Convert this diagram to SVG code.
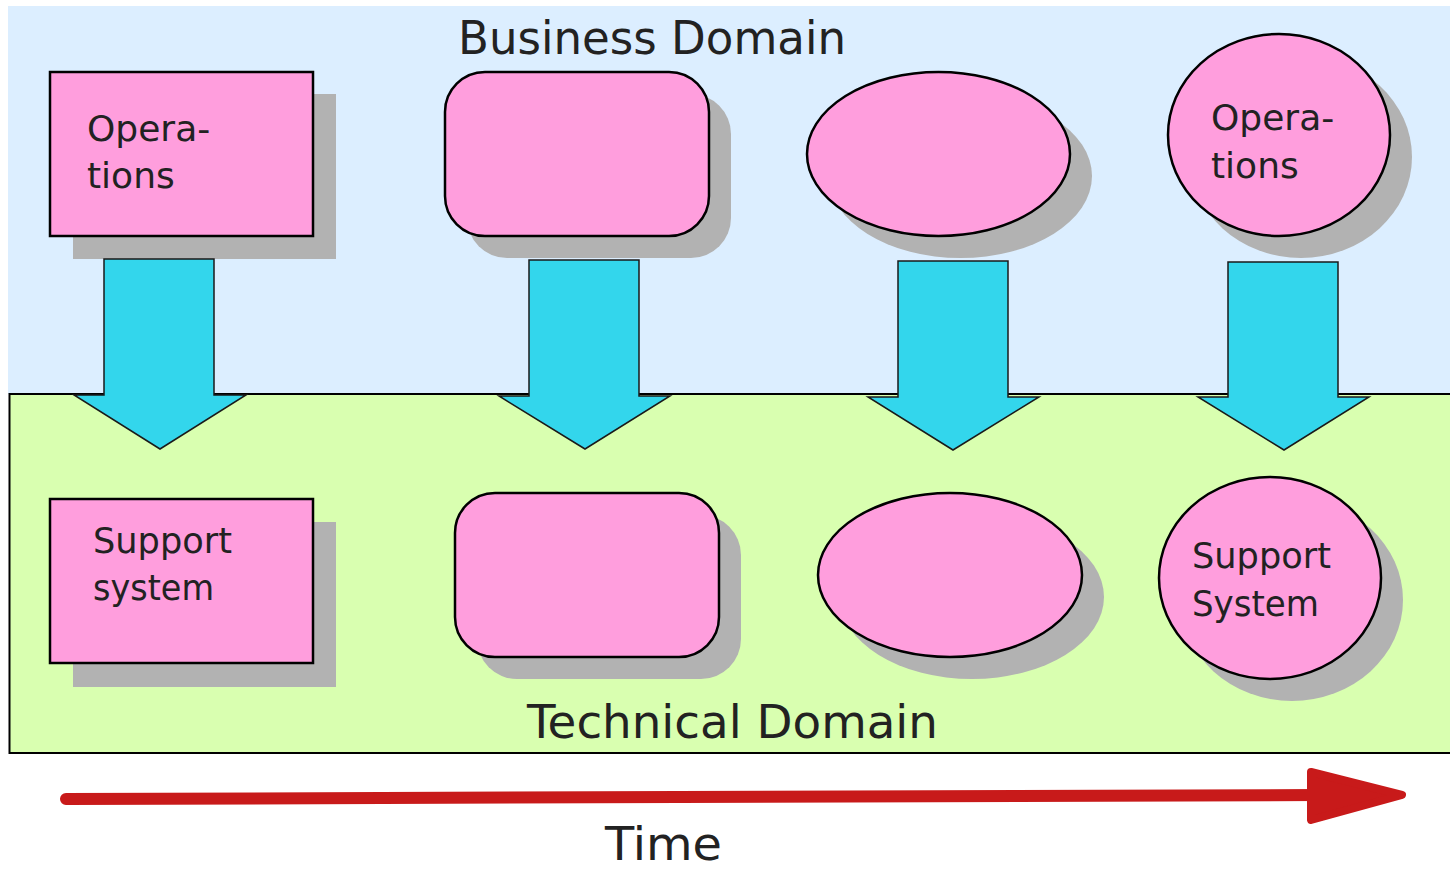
<svg xmlns="http://www.w3.org/2000/svg" width="1450" height="871" viewBox="0 0 1450 871">
<style>
.shape{fill:#FF9EDD;stroke:#000;stroke-width:2.5}
.shadow{fill:#B2B2B2}
.down{fill:#33D6EC;stroke:#1a1a1a;stroke-width:1.5;stroke-linejoin:miter}
.lbl{font-family:"DejaVu Sans","Liberation Sans",sans-serif;font-size:36px;fill:#222}
.title{font-family:"DejaVu Sans","Liberation Sans",sans-serif;font-size:46px;fill:#222}
</style>
<rect width="1450" height="871" fill="#fff"/>
<g id="business-domain">
<rect x="8" y="6" width="1442" height="388" fill="#DCEEFF"/>
<text class="title" x="458" y="54" textLength="388" lengthAdjust="spacingAndGlyphs">Business Domain</text>
</g>
<g id="technical-domain">
<rect x="9.5" y="394" width="1442" height="359" fill="#D9FFB0" stroke="#000" stroke-width="2"/>
<text class="title" x="527" y="738" textLength="411" lengthAdjust="spacingAndGlyphs">Technical Domain</text>
</g>
<g id="ops-rect">
<rect class="shadow" x="73" y="94" width="263" height="165"/>
<rect class="shape" x="50" y="72" width="263" height="164"/>
<text class="lbl" x="87" y="141">Opera-</text>
<text class="lbl" x="87" y="188">tions</text>
</g>
<g id="ops-rounded">
<rect class="shadow" x="467" y="94" width="264" height="164" rx="40"/>
<rect class="shape" x="445" y="72" width="264" height="164" rx="40"/>
</g>
<g id="ops-ellipse">
<ellipse class="shadow" cx="960.5" cy="176" rx="131.5" ry="82"/>
<ellipse class="shape" cx="938.5" cy="154" rx="131.5" ry="82"/>
</g>
<g id="ops-circle">
<ellipse class="shadow" cx="1301" cy="157" rx="111" ry="101"/>
<ellipse class="shape" cx="1279" cy="135" rx="111" ry="101"/>
<text class="lbl" x="1211" y="130">Opera-</text>
<text class="lbl" x="1211" y="178">tions</text>
</g>
<g id="sup-rect">
<rect class="shadow" x="73" y="522" width="263" height="165"/>
<rect class="shape" x="50" y="499" width="263" height="164"/>
<text class="lbl" x="93" y="553" textLength="139" lengthAdjust="spacingAndGlyphs">Support</text>
<text class="lbl" x="93" y="600" textLength="121" lengthAdjust="spacingAndGlyphs">system</text>
</g>
<g id="sup-rounded">
<rect class="shadow" x="477" y="515" width="264" height="164" rx="40"/>
<rect class="shape" x="455" y="493" width="264" height="164" rx="40"/>
</g>
<g id="sup-ellipse">
<ellipse class="shadow" cx="972" cy="597" rx="132" ry="82"/>
<ellipse class="shape" cx="950" cy="575" rx="132" ry="82"/>
</g>
<g id="sup-circle">
<ellipse class="shadow" cx="1292" cy="600" rx="111" ry="101"/>
<ellipse class="shape" cx="1270" cy="578" rx="111" ry="101"/>
<text class="lbl" x="1192" y="568" textLength="139" lengthAdjust="spacingAndGlyphs">Support</text>
<text class="lbl" x="1192" y="616" textLength="127" lengthAdjust="spacingAndGlyphs">System</text>
</g>
<g id="connectors">
<polygon class="down" points="104,259 214,259 214,395 246,395 160,449 74,395 104,395"/>
<polygon class="down" points="529,260 639,260 639,396 670,396 585,449 499,396 529,396"/>
<polygon class="down" points="898,261 1008,261 1008,397 1039,397 953,450 868,397 898,397"/>
<polygon class="down" points="1228,262 1338,262 1338,397 1369,397 1284,450 1198,397 1228,397"/>
<g id="time-arrow">
<line x1="66" y1="799" x2="1320" y2="795" stroke="#C81A1A" stroke-width="12" stroke-linecap="round"/>
<polygon points="1311,772 1402,795 1311,820" fill="#C81A1A" stroke="#C81A1A" stroke-width="8" stroke-linejoin="round"/>
</g>
</g>
<text class="title" x="605" y="860" textLength="117" lengthAdjust="spacingAndGlyphs">Time</text>
</svg>
